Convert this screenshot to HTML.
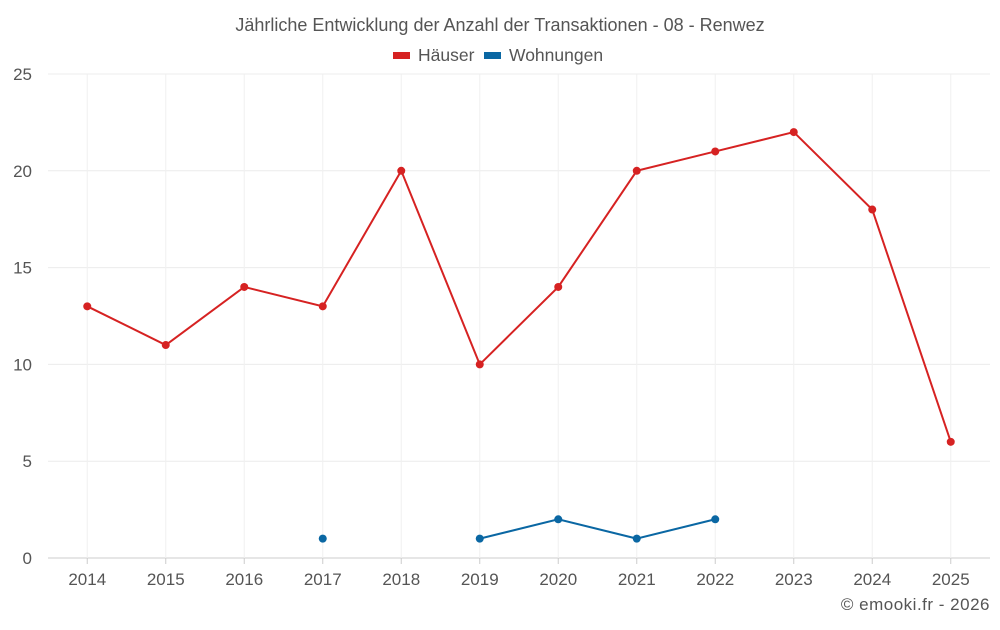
<!DOCTYPE html>
<html><head><meta charset="utf-8"><style>
body{margin:0;background:#fff;font-family:"Liberation Sans",sans-serif;}
svg text{font-family:"Liberation Sans",sans-serif;fill:#555;}
</style></head><body>
<svg id="c" width="1000" height="625">
<text x="500" y="31" text-anchor="middle" font-size="18">Jährliche Entwicklung der Anzahl der Transaktionen - 08 - Renwez</text>
<g>
<g><rect x="393" y="52" width="17" height="7" fill="#d62222"/><text x="418" y="61" font-size="17.5">Häuser</text></g>
<g><rect x="484" y="52" width="17" height="7" fill="#0a67a3"/><text x="509" y="61" font-size="17.5">Wohnungen</text></g>
</g>
<g id="grid"></g><g id="axes"></g><g id="series"></g>
<text x="990" y="610" text-anchor="end" font-size="17" letter-spacing="0.5">© emooki.fr - 2026</text>
</svg>
<script>
const years=[2014,2015,2016,2017,2018,2019,2020,2021,2022,2023,2024,2025];
const haeuser=[13,11,14,13,20,10,14,20,21,22,18,6];
const wohnungen=[null,null,null,1,null,1,2,1,2,null,null,null];
const yTicks=[0,5,10,15,20,25];
const L=48,R=990,T=74,B=558,yMax=25;
const bw=(R-L)/years.length;
const xs=i=>L+bw*(i+0.5);
const ys=v=>B-(v/yMax)*(B-T);
const NS="http://www.w3.org/2000/svg";
function mk(t,a,p){const e=document.createElementNS(NS,t);for(const k in a)e.setAttribute(k,a[k]);p.appendChild(e);return e;}
const g=document.getElementById('grid'),ax=document.getElementById('axes'),s=document.getElementById('series');
yTicks.forEach(v=>{
 const l=mk('line',{x1:L,x2:R,y1:ys(v),y2:ys(v),stroke:v===0?'#ccc':'#ececec'},g);
 
 
 const t=mk('text',{x:32,y:ys(v)+6,'text-anchor':'end','font-size':17},ax);t.textContent=v;
 
 
});
years.forEach((y,i)=>{
 const l=mk('line',{x1:xs(i),x2:xs(i),y1:T,y2:B,stroke:'#f0f0f0'},g);
 
 
 const tk=mk('line',{x1:xs(i),x2:xs(i),y1:B,y2:B+6,stroke:'#ccc'},ax);
 
 
 const t=mk('text',{x:xs(i),y:585,'text-anchor':'middle','font-size':17},ax);t.textContent=y;
 
 
});
function draw(vals,color,name){
 let seg=[];const segs=[];
 vals.forEach((v,i)=>{if(v===null){if(seg.length)segs.push(seg);seg=[];}else seg.push([xs(i),ys(v)]);});
 if(seg.length)segs.push(seg);
 segs.forEach(sg=>{if(sg.length>1){const p=mk('polyline',{points:sg.map(q=>q.join(',')).join(' '),fill:'none',stroke:color,'stroke-width':2},s);
  
  }});
 vals.forEach((v,i)=>{if(v===null)return;const c=mk('circle',{cx:xs(i),cy:ys(v),r:4,fill:color},s);
  
  });
}
draw(haeuser,'#d62222','haeuser');
draw(wohnungen,'#0a67a3','wohnungen');
</script>
</body></html>
